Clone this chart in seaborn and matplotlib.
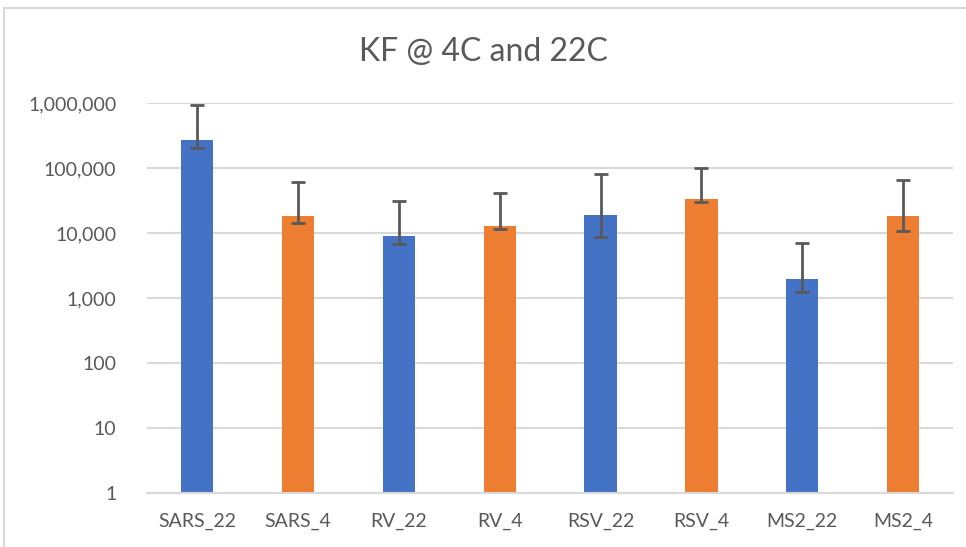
import matplotlib
matplotlib.use("Agg")
import matplotlib.pyplot as plt
import matplotlib.ticker as mticker
from matplotlib.patches import Rectangle
import seaborn as sns
import numpy as np

# values (log scale)
samples = ['SARS_22', 'SARS_4', 'RV_22', 'RV_4', 'RSV_22', 'RSV_4', 'MS2_22', 'MS2_4']
temps = ['22C', '4C', '22C', '4C', '22C', '4C', '22C', '4C']
kf = [267000, 18300, 8870, 12600, 18600, 33400, 1960, 18000]
err_low = [200000, 14300, 6680, 11400, 8770, 30300, 1220, 10800]
err_high = [930000, 60800, 30800, 41000, 81000, 100000, 7090, 66000]
y_ticks = [1, 10, 100, 1000, 10000, 100000, 1000000]

sns.set_style("white")
plt.rcParams['font.family'] = ['Lato', 'DejaVu Sans']

fig = plt.figure(figsize=(9.66, 5.47), dpi=100)
ax = fig.add_axes([0.152, 0.0987, 0.835, 0.713])

# light chart border like the excel chart area
fig.patches.append(Rectangle((4 / 966, -0.1), 1.2, 1.1 - 8 / 547, transform=fig.transFigure,
                             fill=False, edgecolor='#D9D9D9', linewidth=1.5))

sns.barplot(x=samples, y=kf, hue=temps, palette={'22C': '#4472C4', '4C': '#ED7D31'},
            dodge=False, width=0.32, legend=False, ax=ax, edgecolor='none', saturation=1)
ax.set_yscale('log')

# asymmetric error bars
kf_arr = np.array(kf)
yerr = [kf_arr - np.array(err_low), np.array(err_high) - kf_arr]
ax.errorbar(np.arange(len(samples)), kf_arr, yerr=yerr, fmt='none', ecolor='#595959',
            elinewidth=2, capsize=5, capthick=2, zorder=5)

ax.set_ylim(1, 1000000)
ax.set_xlim(-0.5, len(samples) - 0.5)
ax.set_yticks(y_ticks)
ax.yaxis.set_major_formatter(mticker.FuncFormatter(lambda v, p: f"{v:,.0f}"))
ax.yaxis.set_minor_locator(mticker.NullLocator())
ax.grid(axis='y', color='#D9D9D9', linewidth=1.5)
ax.set_axisbelow(True)
for s in ['left', 'right', 'top']:
    ax.spines[s].set_visible(False)
ax.spines['bottom'].set_color('#D9D9D9')
ax.spines['bottom'].set_linewidth(1.5)
ax.tick_params(axis='both', length=0, labelsize=14, labelcolor='#595959')
ax.tick_params(axis='y', pad=22)
ax.tick_params(axis='x', pad=14)

fig.text(0.5, 0.905, 'KF @ 4C and 22C', ha='center', va='center', fontsize=23, color='#595959')

fig.savefig('out.png', dpi=100)
